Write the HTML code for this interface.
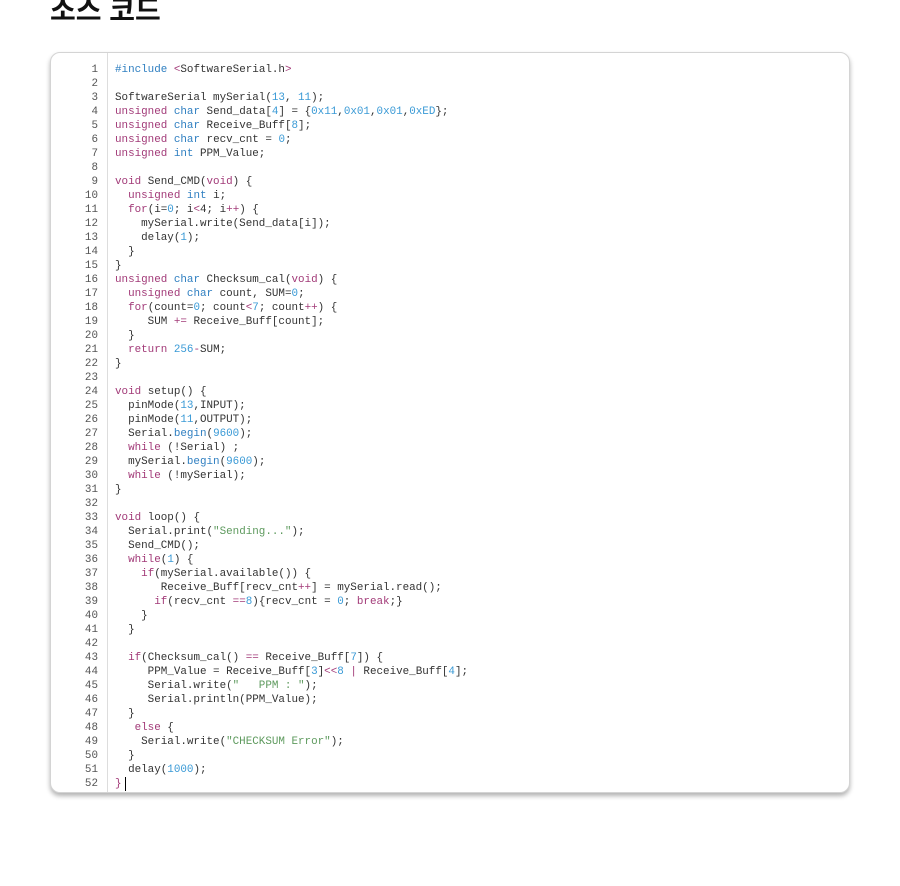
<!DOCTYPE html>
<html><head><meta charset="utf-8"><style>
body{margin:0;width:900px;height:886px;background:#fff;position:relative;overflow:hidden;font-family:"Liberation Sans","Noto Sans CJK KR",sans-serif}
h1{position:absolute;left:50px;top:-5px;margin:0;font-size:28px;line-height:32px;font-weight:bold;color:#111;font-family:"Liberation Sans","Noto Sans CJK KR",sans-serif}
.box{position:absolute;left:50px;top:52px;width:798px;height:739px;border:1px solid #d4d4d4;border-radius:10px;box-shadow:0 3px 5px rgba(0,0,0,.3);background:#fff;overflow:hidden}
.gut{position:absolute;left:0;top:0;width:56px;height:100%;border-right:1px solid #ddd}
pre{margin:0;position:absolute;top:10px;font-family:"Liberation Mono",monospace;font-size:10.9px;line-height:14px;color:#333}
.ln{left:0;width:47px;text-align:right;color:#555}
.code{left:64px}
.k{color:#a23a78}.t{color:#2f7fc1}.n{color:#3a9ad6}.s{color:#5e9a5e}
.cur{display:inline-block;width:1px;height:14px;background:#000;vertical-align:top;margin-left:3px}
</style></head><body>
<h1>소스 코드</h1>
<div class="box"><div class="gut"></div>
<pre class="ln">1
2
3
4
5
6
7
8
9
10
11
12
13
14
15
16
17
18
19
20
21
22
23
24
25
26
27
28
29
30
31
32
33
34
35
36
37
38
39
40
41
42
43
44
45
46
47
48
49
50
51
52</pre>
<pre class="code"><span class="t">#include</span> <span class="k">&lt;</span>SoftwareSerial.h<span class="k">&gt;</span>

SoftwareSerial mySerial(<span class="n">13</span>, <span class="n">11</span>);
<span class="k">unsigned</span> <span class="t">char</span> Send_data[<span class="n">4</span>] = {<span class="n">0x11</span>,<span class="n">0x01</span>,<span class="n">0x01</span>,<span class="n">0xED</span>};
<span class="k">unsigned</span> <span class="t">char</span> Receive_Buff[<span class="n">8</span>];
<span class="k">unsigned</span> <span class="t">char</span> recv_cnt = <span class="n">0</span>;
<span class="k">unsigned</span> <span class="t">int</span> PPM_Value;

<span class="k">void</span> Send_CMD(<span class="k">void</span>) {
  <span class="k">unsigned</span> <span class="t">int</span> i;
  <span class="k">for</span>(i=<span class="n">0</span>; i<span class="k">&lt;</span>4; i<span class="k">++</span>) {
    mySerial.write(Send_data[i]);
    delay(<span class="n">1</span>);
  }
}
<span class="k">unsigned</span> <span class="t">char</span> Checksum_cal(<span class="k">void</span>) {
  <span class="k">unsigned</span> <span class="t">char</span> count, SUM=<span class="n">0</span>;
  <span class="k">for</span>(count=<span class="n">0</span>; count<span class="k">&lt;</span><span class="n">7</span>; count<span class="k">++</span>) {
     SUM <span class="k">+=</span> Receive_Buff[count];
  }
  <span class="k">return</span> <span class="n">256</span><span class="k">-</span>SUM;
}

<span class="k">void</span> setup() {
  pinMode(<span class="n">13</span>,INPUT);
  pinMode(<span class="n">11</span>,OUTPUT);
  Serial.<span class="t">begin</span>(<span class="n">9600</span>);
  <span class="k">while</span> (!Serial) ;
  mySerial.<span class="t">begin</span>(<span class="n">9600</span>);
  <span class="k">while</span> (!mySerial);
}

<span class="k">void</span> loop() {
  Serial.print(<span class="s">"Sending..."</span>);
  Send_CMD();
  <span class="k">while</span>(<span class="n">1</span>) {
    <span class="k">if</span>(mySerial.available()) {
       Receive_Buff[recv_cnt<span class="k">++</span>] = mySerial.read();
      <span class="k">if</span>(recv_cnt <span class="k">==</span><span class="n">8</span>){recv_cnt = <span class="n">0</span>; <span class="k">break</span>;}
    }
  }

  <span class="k">if</span>(Checksum_cal() <span class="k">==</span> Receive_Buff[<span class="n">7</span>]) {
     PPM_Value = Receive_Buff[<span class="n">3</span>]<span class="k">&lt;&lt;</span><span class="n">8</span> <span class="k">|</span> Receive_Buff[<span class="n">4</span>];
     Serial.write(<span class="s">"   PPM : "</span>);
     Serial.println(PPM_Value);
  }
   <span class="k">else</span> {
    Serial.write(<span class="s">"CHECKSUM Error"</span>);
  }
  delay(<span class="n">1000</span>);
<span class="k">}</span><span class="cur"></span></pre>
</div>
</body></html>
